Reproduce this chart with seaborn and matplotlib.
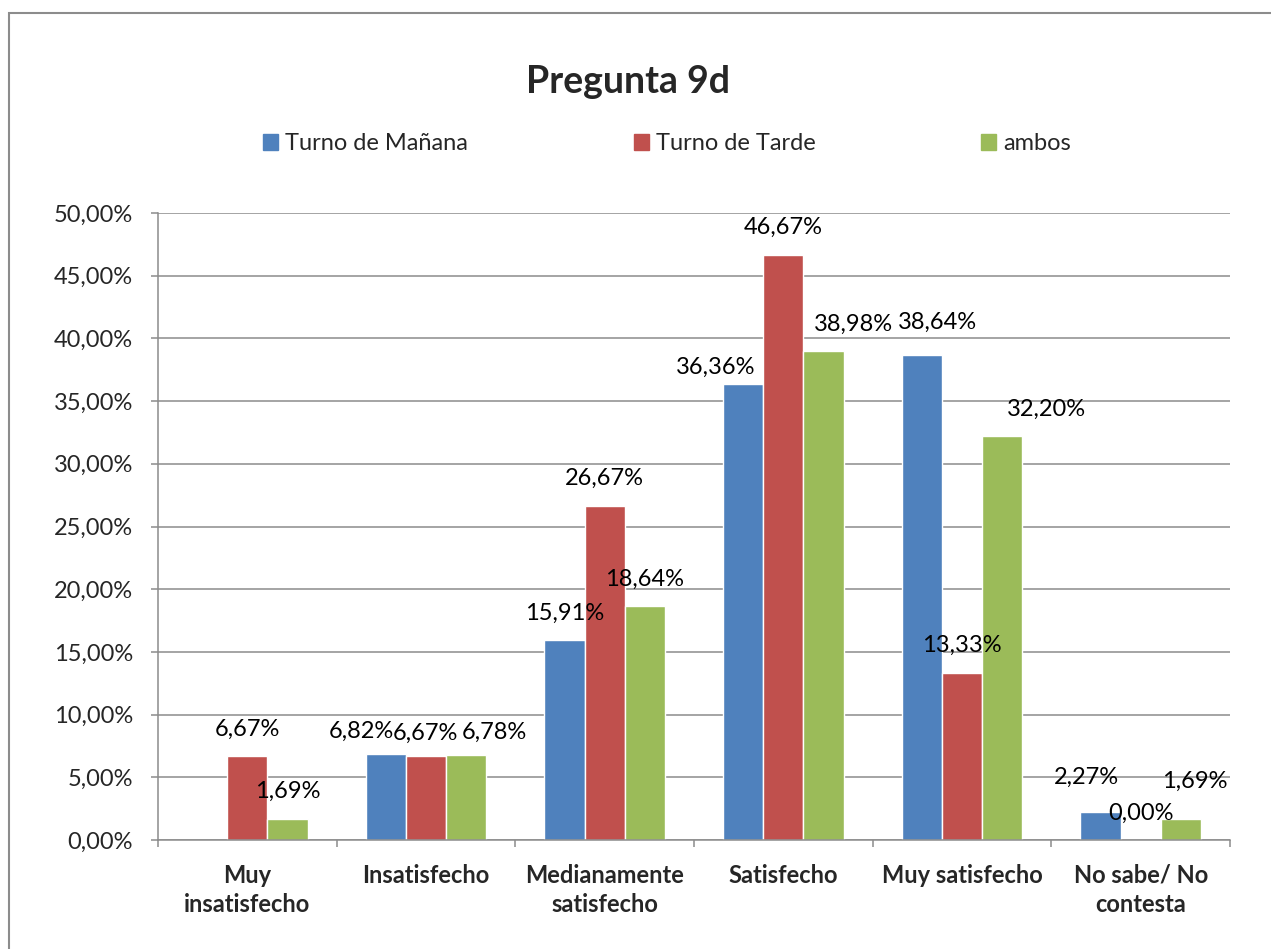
import matplotlib
matplotlib.use("Agg")
import matplotlib.pyplot as plt
import matplotlib.ticker as ticker
import matplotlib.patches as patches
import seaborn as sns
import pandas as pd
import numpy as np

# data (percent)
categorias = ["Muy\ninsatisfecho", "Insatisfecho", "Medianamente\nsatisfecho",
              "Satisfecho", "Muy satisfecho", "No sabe/ No\ncontesta"]
series = ["Turno de Mañana", "Turno de Tarde", "ambos"]
manana = [np.nan, 6.82, 15.91, 36.36, 38.64, 2.27]
tarde = [6.67, 6.67, 26.67, 46.67, 13.33, 0.00]
ambos = [1.69, 6.78, 18.64, 38.98, 32.20, 1.69]

colores = ["#4F81BD", "#C0504D", "#9BBB59"]
gris = "#8C8C8C"
fs = 17

# nudges for the value labels (pixels), like the hand placed ones in excel
nudges = {
    ("Turno de Mañana", 1): (-24, -4),
    ("Turno de Tarde", 1): (-1, -4),
    ("ambos", 1): (28, -4),
    ("Turno de Mañana", 3): (-28, -10),
    ("ambos", 3): (30, 0),
    ("Turno de Mañana", 4): (16, 6),
    ("ambos", 4): (44, 0),
    ("Turno de Mañana", 5): (-14, 7),
    ("ambos", 5): (14, 10),
}

rows = []
for s, vals in zip(series, [manana, tarde, ambos]):
    for c, v in zip(categorias, vals):
        rows.append({"Categoria": c, "Serie": s, "Valor": v})
df = pd.DataFrame(rows)

sns.set_theme(style="white")
plt.rcParams["font.family"] = ["Lato", "DejaVu Sans"]

fig = plt.figure(figsize=(12.71, 9.49), dpi=100)
ax = fig.add_axes([158 / 1271, 1 - 840 / 949, (1230 - 158) / 1271, (840 - 213) / 949])

sns.barplot(data=df, x="Categoria", y="Valor", hue="Serie", order=categorias,
            hue_order=series, palette=colores, width=0.674, gap=0,
            saturation=1, errorbar=None, ax=ax, legend=False)

ax.set_ylim(0, 50)
ax.set_xlim(-0.5, 5.5)
ax.yaxis.set_major_locator(ticker.MultipleLocator(5))
ax.yaxis.set_major_formatter(ticker.FuncFormatter(lambda y, p: f"{y:.2f}%".replace(".", ",")))
ax.grid(axis="y", color=gris, linewidth=1.1)
ax.set_axisbelow(True)
ax.set_xlabel("")
ax.set_ylabel("")

for side in ["top", "right"]:
    ax.spines[side].set_visible(False)
for side in ["left", "bottom"]:
    ax.spines[side].set_color(gris)
    ax.spines[side].set_linewidth(1.1)

ax.xaxis.set_minor_locator(ticker.FixedLocator(np.arange(-0.5, 6, 1)))
ax.tick_params(axis="x", which="major", length=0, pad=17)
ax.tick_params(axis="x", which="minor", bottom=True, length=5, width=1.1, color=gris, direction="out")
ax.tick_params(axis="y", left=True, length=5, width=1.1, color=gris, direction="out", pad=13, labelsize=fs)
for lab in ax.get_xticklabels():
    lab.set_fontweight("bold")
    lab.set_fontsize(fs)
    lab.set_linespacing(1.35)

# value labels
for s, cont in zip(series, ax.containers):
    for bar in cont:
        h = bar.get_height()
        if np.isnan(h):
            continue
        xc = bar.get_x() + bar.get_width() / 2
        cat = int(round(xc))
        dx, dy = nudges.get((s, cat), (0, 0))
        ax.annotate(f"{h:.2f}%".replace(".", ","), (xc, h),
                    xytext=(dx, 27 + dy), textcoords="offset pixels",
                    ha="center", va="center", fontsize=fs, color="black",
                    annotation_clip=False)

fig.text(0.494, 1 - 82 / 949, "Pregunta 9d", ha="center", va="center",
         fontsize=27, fontweight="bold")

handles = [patches.Patch(color=c, label=s) for c, s in zip(colores, series)]
fig.legend(handles=handles, loc="center", bbox_to_anchor=(667 / 1271, 1 - 144 / 949),
           ncol=3, frameon=False, fontsize=fs, handlelength=0.64, handleheight=0.64,
           handletextpad=0.3, columnspacing=7.0)

# outer chart frame (only top and left edges fall inside the picture)
fig.patches.append(patches.Rectangle((9 / 1271, -0.05), 1.2, 1 - 13 / 949 + 0.05,
                                     transform=fig.transFigure, fill=False,
                                     edgecolor=gris, linewidth=1.5))

plt.savefig("out.png", dpi=100)
